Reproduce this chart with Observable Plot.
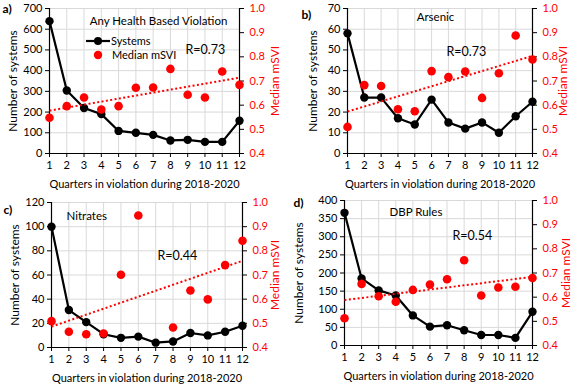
<!DOCTYPE html>
<html><head><meta charset="utf-8">
<script src="https://cdn.jsdelivr.net/npm/d3@7"></script>
<script src="https://cdn.jsdelivr.net/npm/@observablehq/plot@0.6"></script>
<style>
body{margin:0;background:#fff;}
#wrap{position:relative;width:575px;height:388px;overflow:hidden;font-family:Lato,sans-serif;}
.panel{position:absolute;}
</style></head>
<body><div id="wrap"></div>
<script>
const quarters = [1,2,3,4,5,6,7,8,9,10,11,12];
const sviTicks = [0.4,0.5,0.6,0.7,0.8,0.9,1.0];

// a) Any Health Based Violation
const sysA = [639,304,220,190,109,100,90,63,66,56,56,158];
const sviA = [0.548,0.596,0.632,0.582,0.596,0.672,0.673,0.750,0.643,0.632,0.739,0.684];
// b) Arsenic
const sysB = [58,27,27,17,14,26,15,12,15,10,18,25];
const sviB = [0.510,0.683,0.679,0.583,0.575,0.741,0.716,0.739,0.630,0.732,0.888,0.789];
// c) Nitrates
const sysC = [100,31,21,11,8,9,4,5,12,10,13,18];
const sviC = [0.509,0.465,0.455,0.458,0.701,0.946,null,0.483,0.636,0.599,0.741,0.842];
// d) DBP Rules
const sysD = [366,185,152,138,83,52,56,42,29,29,21,93];
const sviD = [0.513,0.655,0.604,0.581,0.630,0.652,0.674,0.753,0.607,0.640,0.643,0.679];

const panels = [
  {id:"a)", title:"Any Health Based Violation", r:"R=0.73", sys:sysA, svi:sviA, yMax:700, yStep:100,
   left:0, top:0, width:288, m:[8,49,41,49], titlePos:[158,21,"middle"], rPos:[185,49], labPos:[2,9],
   yLabX:13, rLabX:275, legend:true},
  {id:"b)", title:"Arsenic", r:"R=0.73", sys:sysB, svi:sviB, yMax:70, yStep:10,
   left:288, top:0, width:287, m:[8,43,41,59], titlePos:[147,17,"middle"], rPos:[158,51], labPos:[13,15],
   yLabX:25, rLabX:275},
  {id:"c)", title:"Nitrates", r:"R=0.44", sys:sysC, svi:sviC, yMax:120, yStep:20,
   left:0, top:194, width:288, m:[8,46,41,51], titlePos:[66,22,"start"], rPos:[157,61], labPos:[3,16],
   yLabX:15, rLabX:275},
  {id:"d)", title:"DBP Rules", r:"R=0.54", sys:sysD, svi:sviD, yMax:400, yStep:50,
   left:288, top:194, width:287, m:[6,43,43,56], titlePos:[101,18,"start"], rPos:[164,41], labPos:[5,9],
   yLabX:11, rLabX:278}
];

const RED = "#ff0000";
const wrap = document.getElementById("wrap");

for (const p of panels) {
  const [mt, mr, mb, ml] = p.m;
  const toY = v => (v - 0.4) / 0.6 * p.yMax;
  const fromY = y => 0.4 + y / p.yMax * 0.6;
  const data = quarters.map((q, i) => ({q, sys: p.sys[i], svi: p.svi[i]}));
  const sviData = data.filter(d => d.svi != null);
  const leftTicks = d3.range(0, p.yMax + p.yStep / 2, p.yStep);
  const note = (txt, x, y, opts = {}) => Plot.text([txt], {
    frameAnchor: "top-left", dx: x - ml, dy: y - mt, lineAnchor: "middle",
    textAnchor: "start", fill: "black", ...opts
  });
  const chart = Plot.plot({
    width: p.width, height: 194,
    marginTop: mt, marginRight: mr, marginBottom: mb, marginLeft: ml,
    style: {fontFamily: "Lato, sans-serif", fontSize: "11px", color: "black", background: "white"},
    x: {domain: [1, 12]},
    y: {domain: [0, p.yMax]},
    marks: [
      Plot.gridX(quarters, {stroke: "#d9d9d9", strokeOpacity: 1}),
      Plot.gridY(leftTicks, {stroke: "#d9d9d9", strokeOpacity: 1}),
      Plot.ruleX([1, 12], {stroke: "black", strokeWidth: 1.2}),
      Plot.ruleY([0], {stroke: "black", strokeWidth: 1.2}),
      Plot.axisX(quarters, {tickSize: 4, tickPadding: 4, tickFormat: d => String(d),
        label: "Quarters in violation during 2018-2020", labelAnchor: "center", labelArrow: "none", labelOffset: 34}),
      Plot.axisY(leftTicks, {anchor: "left", tickSize: 4, tickPadding: 3, tickFormat: d => String(d), label: null}),
      Plot.axisY(sviTicks.map(toY), {anchor: "right", tickSize: 4, tickFormat: () => "", label: null}),
      Plot.axisY(sviTicks.map(toY), {anchor: "right", tickSize: 0, tickPadding: 10, color: RED,
        tickFormat: d => fromY(d).toFixed(1), label: null}),
      Plot.text(["Number of systems"], {frameAnchor: "left", dx: p.yLabX - ml, rotate: -90,
        textAnchor: "middle", lineAnchor: "middle", fill: "black", fontSize: 12}),
      Plot.text(["Median mSVI"], {frameAnchor: "right", dx: p.rLabX - (p.width - mr), rotate: -90,
        textAnchor: "middle", lineAnchor: "middle", fill: RED, fontSize: 12}),
      Plot.lineY(data, {x: "q", y: "sys", stroke: "black", strokeWidth: 2.2}),
      Plot.dot(data, {x: "q", y: "sys", r: 4.2, fill: "black"}),
      Plot.linearRegressionY(sviData, {x: "q", y: d => toY(d.svi), stroke: RED, strokeWidth: 2,
        strokeDasharray: "2,2.4", strokeLinecap: "butt", ci: 0}),
      Plot.dot(sviData, {x: "q", y: d => toY(d.svi), r: 4.3, fill: RED}),
      note(p.title, p.titlePos[0], p.titlePos[1], {textAnchor: p.titlePos[2], fontSize: 11.5}),
      note(p.r, p.rPos[0], p.rPos[1], {fontSize: 12.5}),
      note(p.id, p.labPos[0], p.labPos[1], {fontSize: 12, fontWeight: "bold"})
    ]
  });
  if (p.legend) {
    const g = d3.select(chart).append("g").attr("font-family", "Lato, sans-serif").attr("font-size", 11)
      .attr("text-anchor", "start");
    g.append("line").attr("x1", 86).attr("x2", 110).attr("y1", 41).attr("y2", 41).attr("stroke", "black").attr("stroke-width", 2.2);
    g.append("circle").attr("cx", 98).attr("cy", 41).attr("r", 4).attr("fill", "black");
    g.append("text").attr("x", 111).attr("y", 41).attr("dy", "0.35em").attr("text-anchor", "start").text("Systems");
    g.append("circle").attr("cx", 98).attr("cy", 55).attr("r", 4.2).attr("fill", RED);
    g.append("text").attr("x", 112).attr("y", 55).attr("dy", "0.35em").attr("text-anchor", "start").text("Median mSVI");
  }
  const div = document.createElement("div");
  div.className = "panel";
  div.style.left = p.left + "px";
  div.style.top = p.top + "px";
  div.appendChild(chart);
  wrap.appendChild(div);
}
</script></body></html>
